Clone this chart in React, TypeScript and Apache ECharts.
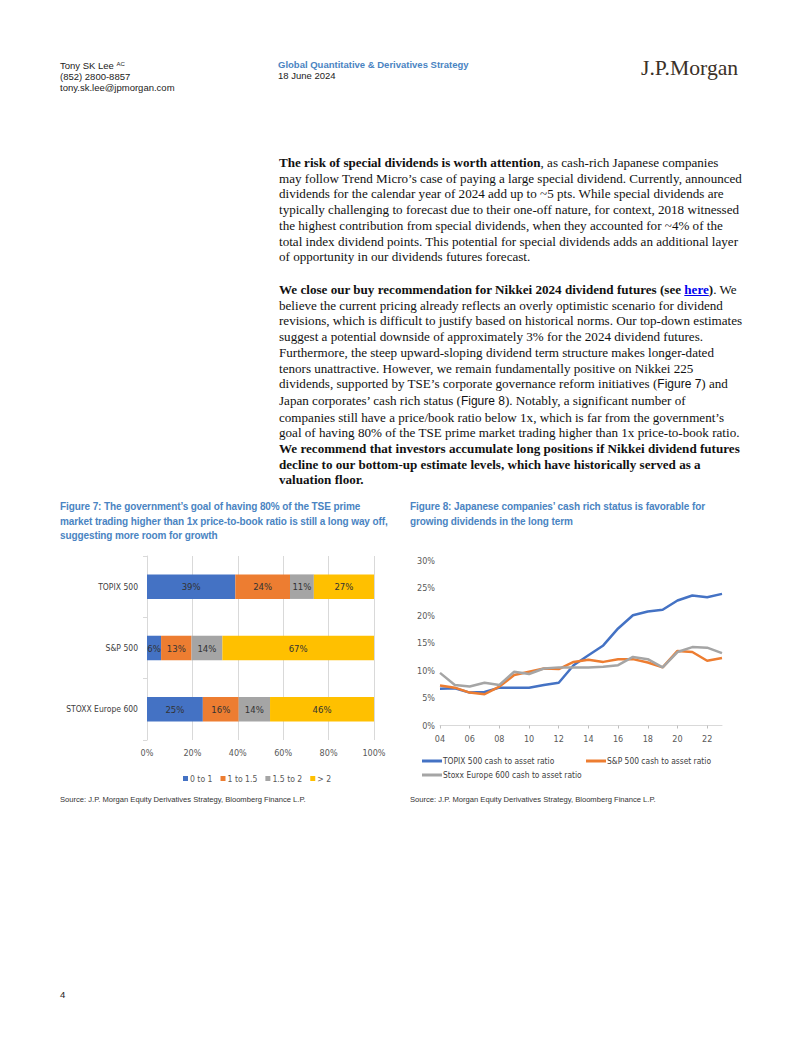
import React, { useEffect, useRef } from "react";
import * as echarts from "echarts";

// ---------- Figure 7 data ----------
const barCategories = ["STOXX Europe 600", "S&P 500", "TOPIX 500"];
const pbBuckets = ["0 to 1", "1 to 1.5", "1.5 to 2", "> 2"];
const share0to1 = [24.6, 6.2, 38.9];
const share1to15 = [15.8, 13.4, 24.1];
const share15to2 = [13.8, 13.6, 10.5];
const shareAbove2 = [45.8, 66.8, 26.5];
const barTicks = { min: 0, max: 100, interval: 20 };

// ---------- Figure 8 data ----------
const years = ["04", "05", "06", "07", "08", "09", "10", "11", "12", "13", "14", "15", "16", "17", "18", "19", "20", "21", "22", "23"];
const topixCash = [6.7, 6.8, 6.0, 6.1, 6.9, 6.9, 6.9, 7.4, 7.8, 11.0, 12.8, 14.6, 17.7, 20.1, 20.8, 21.1, 22.8, 23.7, 23.4, 24.0];
const spCash = [7.3, 6.9, 6.0, 5.7, 7.1, 9.2, 9.8, 10.4, 10.3, 11.6, 12.0, 11.6, 12.1, 12.1, 11.5, 10.6, 13.6, 13.4, 11.8, 12.3];
const stoxxCash = [9.6, 7.4, 7.1, 7.8, 7.4, 9.8, 9.4, 10.4, 10.6, 10.6, 10.6, 10.7, 11.0, 12.5, 12.1, 10.6, 13.4, 14.3, 14.2, 13.2];
const lineNames = ["TOPIX 500 cash to asset ratio", "S&P 500 cash to asset ratio", "Stoxx Europe 600 cash to asset ratio"];
const lineTicks = { min: 0, max: 30, interval: 5 };

const NARROW = "'Liberation Sans Narrow', 'Arial Narrow', 'DejaVu Sans Condensed', 'Liberation Sans', sans-serif";
const SANS = "'Liberation Sans', Arial, sans-serif";
const SERIF = "'Liberation Serif', 'Times New Roman', serif";
const BLUE = "#4472C4", ORANGE = "#ED7D31", GRAY = "#A5A5A5", YELLOW = "#FFC000";
const TITLE_BLUE = "#4A84C2";

function buildOption() {
  const barColors = [BLUE, ORANGE, GRAY, YELLOW];
  const barData = [share0to1, share1to15, share15to2, shareAbove2];
  const lineData = [topixCash, spCash, stoxxCash];
  const lineColors = [BLUE, ORANGE, GRAY];
  const axisText = { fontFamily: NARROW, fontSize: 9, color: "#595959" };
  const legText = { fontFamily: NARROW, fontSize: 8.4, color: "#404040", padding: [0, 0, 0, -4] };
  return {
    animation: false,
    backgroundColor: "transparent",
    textStyle: { fontFamily: NARROW },
    grid: [
      { left: 147, top: 556, width: 227, height: 184 },
      { left: 440, top: 561, width: 282, height: 164.5 },
    ],
    xAxis: [
      {
        gridIndex: 0, type: "value", ...barTicks,
        axisLine: { show: false }, axisTick: { show: false },
        splitLine: { show: true, lineStyle: { color: "#D9D9D9", width: 1 } },
        axisLabel: { ...axisText, margin: 8, formatter: "{value}%" },
      },
      {
        gridIndex: 1, type: "category", data: years, boundaryGap: false,
        axisLine: { show: true, lineStyle: { color: "#D9D9D9" } },
        axisTick: { show: true, interval: 1, length: 3, lineStyle: { color: "#BFBFBF" } },
        axisLabel: { ...axisText, interval: 1, margin: 9 },
        splitLine: { show: false },
      },
    ],
    yAxis: [
      {
        gridIndex: 0, type: "category", data: barCategories,
        axisLine: { show: true, lineStyle: { color: "#D9D9D9" } },
        axisTick: { show: true, length: 4, lineStyle: { color: "#D9D9D9" } },
        axisLabel: { ...axisText, fontSize: 8.5, color: "#404040", margin: 9 },
      },
      {
        gridIndex: 1, type: "value", ...lineTicks,
        axisLine: { show: false }, axisTick: { show: false },
        splitLine: { show: false },
        axisLabel: { ...axisText, margin: 5, formatter: "{value}%" },
      },
    ],
    legend: [
      {
        data: pbBuckets, left: 178, top: 769, icon: "rect", itemWidth: 5, itemHeight: 5, itemGap: 8,
        textStyle: { ...legText, fontSize: 8.6, color: "#595959", padding: [0, 0, 0, -3] },
      },
      {
        data: [lineNames[0]], left: 417, top: 752, icon: "rect", itemWidth: 20, itemHeight: 3,
        textStyle: legText,
      },
      {
        data: [lineNames[1]], left: 581, top: 752, icon: "rect", itemWidth: 20, itemHeight: 3,
        textStyle: legText,
      },
      {
        data: [lineNames[2]], left: 417, top: 766, icon: "rect", itemWidth: 20, itemHeight: 3,
        textStyle: legText,
      },
    ],
    series: [
      ...pbBuckets.map((name, i) => ({
        name, type: "bar", stack: "pb", xAxisIndex: 0, yAxisIndex: 0,
        barWidth: "40%", data: barData[i],
        itemStyle: { color: barColors[i] },
        label: {
          show: true, position: "inside", fontFamily: NARROW, fontSize: 9.5, color: "#333",
          formatter: (p: any) => Math.round(p.value) + "%",
        },
      })),
      ...lineNames.map((name, i) => ({
        name, type: "line", xAxisIndex: 1, yAxisIndex: 1, data: lineData[i],
        symbol: "none", lineStyle: { color: lineColors[i], width: 2.5 }, itemStyle: { color: lineColors[i] },
      })),
    ],
  };
}

const abs = (left: number, top: number, extra: any = {}) => ({ position: "absolute" as const, left, top, whiteSpace: "nowrap" as const, margin: 0, ...extra });

const para1: React.ReactNode[] = [
  <><b>The risk of special dividends is worth attention</b>, as cash-rich Japanese companies</>,
  "may follow Trend Micro’s case of paying a large special dividend. Currently, announced",
  "dividends for the calendar year of 2024 add up to ~5 pts. While special dividends are",
  "typically challenging to forecast due to their one-off nature, for context, 2018 witnessed",
  "the highest contribution from special dividends, when they accounted for ~4% of the",
  "total index dividend points. This potential for special dividends adds an additional layer",
  "of opportunity in our dividends futures forecast.",
];
const figRef = (t: string) => <span style={{ fontFamily: SANS, fontSize: 12 }}>{t}</span>;
const para2: React.ReactNode[] = [
  <><b>We close our buy recommendation for Nikkei 2024 dividend futures (see <span style={{ color: "#0000EE", textDecoration: "underline" }}>here</span>)</b>. We</>,
  "believe the current pricing already reflects an overly optimistic scenario for dividend",
  "revisions, which is difficult to justify based on historical norms. Our top-down estimates",
  "suggest a potential downside of approximately 3% for the 2024 dividend futures.",
  "Furthermore, the steep upward-sloping dividend term structure makes longer-dated",
  "tenors unattractive. However, we remain fundamentally positive on Nikkei 225",
  <>dividends, supported by TSE’s corporate governance reform initiatives ({figRef("Figure 7")}) and</>,
  <>Japan corporates’ cash rich status ({figRef("Figure 8")}). Notably, a significant number of</>,
  "companies still have a price/book ratio below 1x, which is far from the government’s",
  "goal of having 80% of the TSE prime market trading higher than 1x price-to-book ratio.",
  <b>We recommend that investors accumulate long positions if Nikkei dividend futures</b>,
  <b>decline to our bottom-up estimate levels, which have historically served as a</b>,
  <b>valuation floor.</b>,
];
const fig7Title = [
  "Figure 7: The government’s goal of having 80% of the TSE prime",
  "market trading higher than 1x price-to-book ratio is still a long way off,",
  "suggesting more room for growth",
];
const fig8Title = [
  "Figure 8: Japanese companies’ cash rich status is favorable for",
  "growing dividends in the long term",
];
const source = "Source: J.P. Morgan Equity Derivatives Strategy, Bloomberg Finance L.P.";

export default function App() {
  const ref = useRef<HTMLDivElement>(null);
  useEffect(() => {
    if (!ref.current) return;
    const chart = echarts.init(ref.current, null, { renderer: "svg" });
    chart.setOption(buildOption() as any);
    return () => chart.dispose();
  }, []);

  const bodyStyle = { fontFamily: SERIF, fontSize: 13.1, lineHeight: "15.7px", color: "#111" };
  const hdr = { fontFamily: SANS, fontSize: 9.5, lineHeight: "10.8px", color: "#222" };
  const titleStyle = { fontFamily: SANS, fontWeight: "bold" as const, fontSize: 10, lineHeight: "14.5px", color: TITLE_BLUE, letterSpacing: "-0.1px" };
  const srcStyle = { fontFamily: SANS, fontSize: 7.6, color: "#333" };

  return (
    <div style={{ position: "absolute", left: 0, top: 0, width: 802, height: 1037, background: "#fff", overflow: "hidden" }}>
      {/* header */}
      <div style={abs(60, 61, hdr)}>
        <div>Tony SK Lee <sup style={{ fontSize: 6, verticalAlign: "top", position: "relative", top: -2 }}>AC</sup></div>
        <div>(852) 2800-8857</div>
        <div>tony.sk.lee@jpmorgan.com</div>
      </div>
      <div style={abs(278, 60, hdr)}>
        <div style={{ color: TITLE_BLUE, fontWeight: "bold" }}>Global Quantitative &amp; Derivatives Strategy</div>
        <div>18 June 2024</div>
      </div>
      <div style={abs(641, 55, { fontFamily: SERIF, fontSize: 21.7, color: "#3b3128", lineHeight: "26px" })}>J.P.Morgan</div>

      {/* body */}
      <div style={abs(279, 155, bodyStyle)}>
        {para1.map((l, i) => <div key={i}>{l}</div>)}
      </div>
      <div style={abs(279, 282, bodyStyle)}>
        {para2.map((l, i) => <div key={i}>{l}</div>)}
      </div>

      {/* figure titles */}
      <div style={abs(60, 500, titleStyle)}>
        {fig7Title.map((l, i) => <div key={i}>{l}</div>)}
      </div>
      <div style={abs(410, 500, titleStyle)}>
        {fig8Title.map((l, i) => <div key={i}>{l}</div>)}
      </div>

      {/* sources */}
      <div style={abs(60, 795, srcStyle)}>{source}</div>
      <div style={abs(410, 795, srcStyle)}>{source}</div>

      <div style={abs(60, 989, { fontFamily: SANS, fontSize: 9.5, color: "#222" })}>4</div>

      <div ref={ref} style={{ position: "absolute", left: 0, top: 0, width: 802, height: 1037 }} />
    </div>
  );
}
